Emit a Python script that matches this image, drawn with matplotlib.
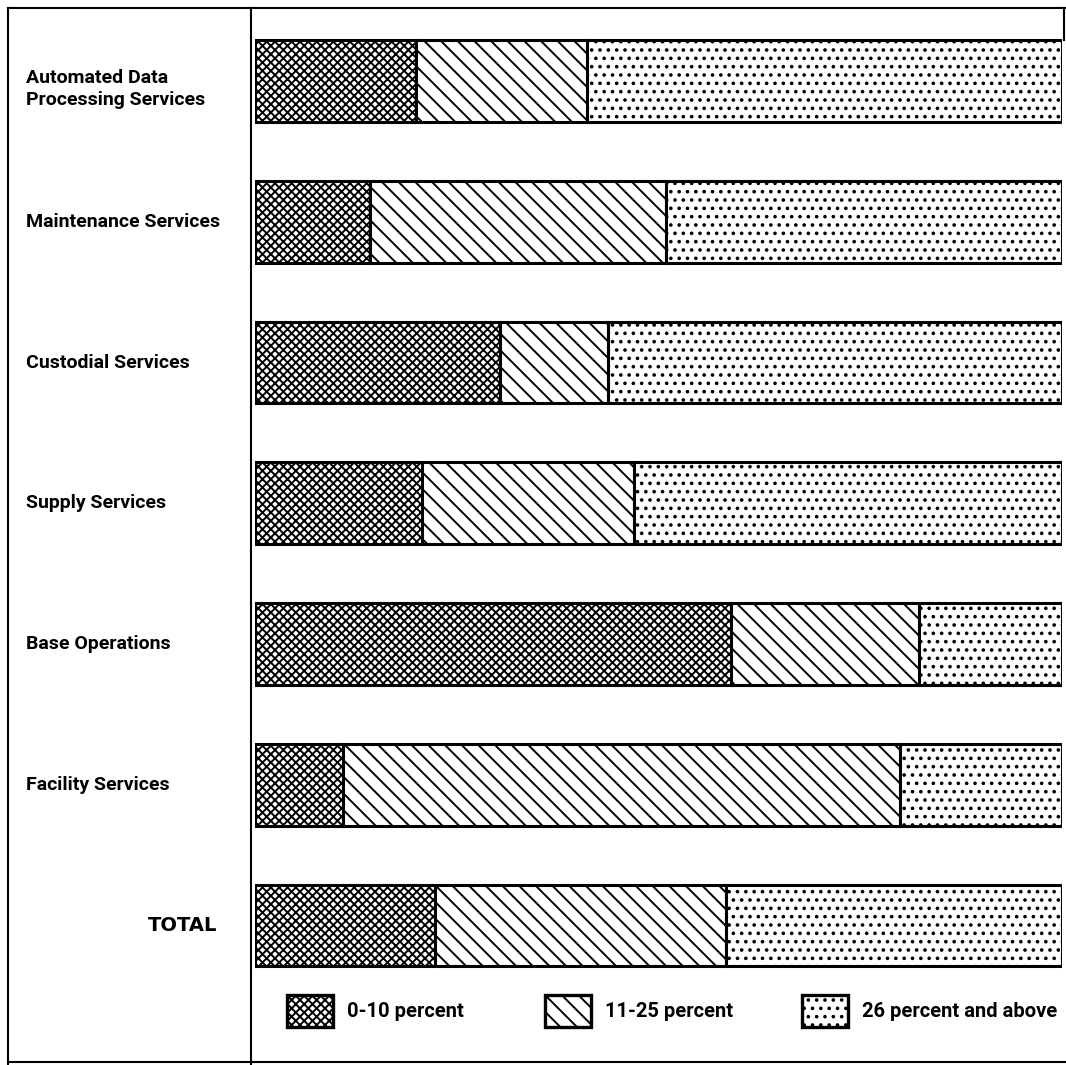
import matplotlib
matplotlib.use("Agg")
import matplotlib.pyplot as plt
from matplotlib.lines import Line2D
from matplotlib.patches import Patch
import matplotlib.transforms as mtransforms
import numpy as np

categories = ["Automated Data\nProcessing Services", "Maintenance Services",
              "Custodial Services", "Supply Services", "Base Operations",
              "Facility Services", "TOTAL"]
low = [20.0, 14.3, 30.4, 20.7, 59.0, 10.9, 22.3]      # 0-10 percent
mid = [21.1, 36.6, 13.4, 26.3, 23.3, 69.0, 36.1]      # 11-25 percent
high = [58.9, 49.1, 56.2, 53.0, 17.7, 20.1, 41.6]     # 26 percent and above
series_names = ["0-10 percent", "11-25 percent", "26 percent and above"]

plt.rcParams['hatch.linewidth'] = 1.4
plt.rcParams['font.family'] = ['Roboto', 'DejaVu Sans']

W, H = 1066, 1065
fig = plt.figure(figsize=(W / 100, H / 100), dpi=100)
ax = fig.add_axes([255 / W, 0, 807 / W, 1])

y = np.arange(len(categories))
hatches = ['xxxx', '\\\\', '..']
left = np.zeros(len(categories))
for vals, h, name in zip([low, mid, high], hatches, series_names):
    ax.barh(y, vals, left=left, height=0.58, color='white', edgecolor='black',
            linewidth=2.2, hatch=h, label=name)
    left += np.array(vals)

ax.set_xlim(0, 100)
ax.set_ylim(6.99, -0.575)
ax.axis('off')

trans = mtransforms.blended_transform_factory(fig.transFigure, ax.transData)
for i, cat in enumerate(categories):
    if cat == "TOTAL":
        ax.text(148 / W, i, cat, transform=trans, ha='left', va='center',
                fontsize=14, fontweight='bold', family='DejaVu Sans')
    else:
        ax.text(26 / W, i + (0.06 if i == 0 else 0), cat, transform=trans,
                ha='left', va='center', fontsize=14, fontweight='bold',
                linespacing=1.3)

# legend entries sit at uneven spacing in the original, so one legend each
legend_x = [287, 545, 802]
for h, name, lx in zip(hatches, series_names, legend_x):
    p = Patch(facecolor='white', edgecolor='black', linewidth=2.4, hatch=h)
    fig.legend([p], [name], loc='center left',
               bbox_to_anchor=(lx / W, 1 - 1011 / H), frameon=False,
               borderpad=0, borderaxespad=0,
               handlelength=2.3, handleheight=2.0, handletextpad=0.7,
               prop={'weight': 'bold', 'size': 14.5})

# frame lines
for (x0, y0, x1, y1) in [(8, 8, 8, 1065), (251, 8, 251, 1065), (8, 8, 1065, 8),
                         (1064, 8, 1064, 40), (8, 1062, 1066, 1062)]:
    fig.add_artist(Line2D([x0 / W, x1 / W], [1 - y0 / H, 1 - y1 / H],
                          color='black', linewidth=1.5))

fig.savefig("out.png", dpi=100, facecolor='white')
